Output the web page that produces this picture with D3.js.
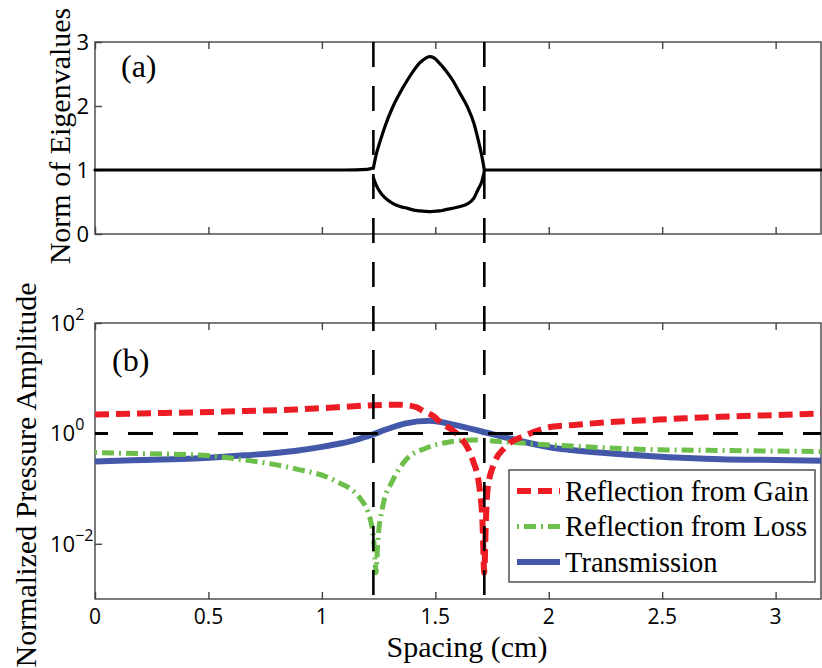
<!DOCTYPE html>
<html>
<head>
<meta charset="utf-8">
<script src="https://cdn.jsdelivr.net/npm/d3@7"></script>
<style>
  body { margin: 0; background: #fff; }
  svg { display: block; }
</style>
</head>
<body>
<svg id="svg" width="822" height="668"></svg>
<script>
// ****************************************
// Data

var xTicks = [0, 0.5, 1, 1.5, 2, 2.5, 3];
var eigTicks = [0, 1, 2, 3];
var ampTicks = [2, 0, -2];   // exponents of 10

var phaseEdges = [1.227, 1.716];

// panel (a): flat parts and the loop
var flatLeftX = [0, 0.6, 1.1, 1.2, 1.227];
var flatLeftY = [1.0, 1.0, 1.0, 1.01, 1.03];
var flatRightX = [1.716, 2.4, 3.2];
var flatRightY = [1.0, 1.0, 1.0];
var loopX = [1.227, 1.24, 1.256, 1.28, 1.312, 1.345, 1.378, 1.41, 1.43, 1.455, 1.474, 1.495, 1.518, 1.545, 1.575, 1.61, 1.641, 1.67, 1.689, 1.705, 1.716];
var upperY = [1.03, 1.25, 1.44, 1.70, 1.98, 2.21, 2.41, 2.58, 2.67, 2.74, 2.77, 2.75, 2.67, 2.56, 2.41, 2.19, 1.99, 1.73, 1.47, 1.22, 1.0];
var lowerY = [0.88, 0.76, 0.66, 0.56, 0.48, 0.43, 0.40, 0.37, 0.36, 0.355, 0.35, 0.355, 0.36, 0.38, 0.40, 0.43, 0.47, 0.56, 0.70, 0.82, 0.98];

// panel (b)
var gainX = [0, 0.2, 0.44, 0.66, 0.88, 1.05, 1.232, 1.3, 1.342, 1.415, 1.443, 1.488, 1.531, 1.575, 1.62, 1.665, 1.694, 1.708, 1.716, 1.722, 1.73, 1.76, 1.81, 1.90, 2.015, 2.10, 2.25, 2.44, 2.6, 2.76, 3.0, 3.2];
var gainY = [2.2, 2.3, 2.4, 2.55, 2.7, 2.95, 3.25, 3.3, 3.3, 3.0, 2.6, 2.1, 1.5, 1.15, 0.76, 0.33, 0.108, 0.024, 0.003, 0.02, 0.094, 0.29, 0.57, 0.93, 1.32, 1.41, 1.58, 1.74, 1.88, 2.0, 2.15, 2.3];

var lossX = [0, 0.2, 0.44, 0.66, 0.88, 1.056, 1.173, 1.217, 1.232, 1.239, 1.246, 1.268, 1.312, 1.37, 1.458, 1.562, 1.665, 1.81, 2.03, 2.10, 2.44, 2.76, 3.2];
var lossY = [0.45, 0.43, 0.41, 0.33, 0.23, 0.14, 0.063, 0.024, 0.008, 0.003, 0.01, 0.047, 0.14, 0.33, 0.54, 0.70, 0.76, 0.70, 0.61, 0.59, 0.51, 0.49, 0.47];

var transX = [0, 0.22, 0.44, 0.66, 0.88, 1.0, 1.08, 1.12, 1.166, 1.2, 1.227, 1.276, 1.37, 1.474, 1.59, 1.708, 1.855, 2.03, 2.10, 2.25, 2.44, 2.76, 3.0, 3.2];
var transY = [0.31, 0.33, 0.35, 0.40, 0.48, 0.57, 0.655, 0.71, 0.80, 0.88, 0.96, 1.15, 1.52, 1.69, 1.41, 1.07, 0.76, 0.54, 0.50, 0.44, 0.39, 0.34, 0.33, 0.32];

var legendLabels = ['Reflection from Gain', 'Reflection from Loss', 'Transmission'];

// ****************************************
// Layout

var left = 95, right = 821;
var aTop = 42, aBottom = 234;
var bTop = 323, bBottom = 599;
var tickLen = 7;
var sans = "'Open Sans', sans-serif";
var serif = "'Liberation Serif', 'Times New Roman', serif";

var red = '#ec1c24', green = '#6dbf4b', blue = '#4358a8';

var svg = d3.select('#svg');

var x = d3.scaleLinear().domain([0, 3.2]).range([left, right]);
var yA = d3.scaleLinear().domain([0, 3]).range([aBottom, aTop]);
var yB = d3.scaleLog().domain([1e-3, 1e2]).range([bBottom, bTop]);

// ****************************************
// Frames and ticks

function frame(y0, y1){
  var g = svg.append('g');
  g.append('g').attr('transform', 'translate(0,' + y1 + ')')
    .call(d3.axisBottom(x).tickValues(xTicks).tickSizeInner(-tickLen).tickSizeOuter(0).tickFormat(''));
  g.append('g').attr('transform', 'translate(0,' + y0 + ')')
    .call(d3.axisTop(x).tickValues(xTicks).tickSizeInner(-tickLen).tickSizeOuter(0).tickFormat(''));
  g.selectAll('.domain').remove();
  g.append('rect').attr('x', left).attr('y', y0).attr('width', right - left).attr('height', y1 - y0)
    .style('fill', 'none').style('stroke', '#444').style('stroke-width', 1.4);
  g.selectAll('.tick line').style('stroke', '#444').style('stroke-width', 1.4);
  return g;
}

var gA = frame(aTop, aBottom);
var gB = frame(bTop, bBottom);

// panel (a) y axis
var axA = svg.append('g').attr('transform', 'translate(' + left + ',0)')
  .call(d3.axisLeft(yA).tickValues(eigTicks).tickSizeInner(-tickLen).tickSizeOuter(0).tickPadding(6).tickFormat(d3.format('d')));
axA.select('.domain').remove();
axA.selectAll('.tick line').style('stroke', '#444').style('stroke-width', 1.4);
axA.selectAll('.tick text').style('font-family', sans).style('font-size', '22px').style('fill', '#000').attr('dy', '0.36em');

// panel (b) y axis
var axB = svg.append('g').attr('transform', 'translate(' + left + ',0)')
  .call(d3.axisLeft(yB).tickValues(ampTicks.map(function(e){ return Math.pow(10, e); })).tickSizeInner(-tickLen).tickSizeOuter(0).tickFormat(''));
axB.select('.domain').remove();
axB.selectAll('.tick line').style('stroke', '#444').style('stroke-width', 1.4);

ampTicks.forEach(function(e){
  var t = svg.append('text').attr('x', 50).attr('y', yB(Math.pow(10, e)) + 8)
    .style('font-family', sans).style('font-size', '22px').style('fill', '#000');
  t.append('tspan').text('10');
  t.append('tspan').attr('dy', -11).style('font-size', '16px').text(e < 0 ? '\u2212' + (-e) : String(e));
});

// x tick labels
xTicks.forEach(function(v){
  svg.append('text').attr('x', x(v)).attr('y', 624).attr('text-anchor', 'middle')
    .style('font-family', sans).style('font-size', '21px').style('fill', '#000')
    .text(v);
});

// ****************************************
// Panel (a) curves

function pairs(xs, ys){ return xs.map(function(d, i){ return [d, ys[i]]; }); }

var lineA = d3.line().x(function(d){ return x(d[0]); }).y(function(d){ return yA(d[1]); }).curve(d3.curveMonotoneX);

[pairs(flatLeftX, flatLeftY), pairs(flatRightX, flatRightY), pairs(loopX, upperY), pairs(loopX, lowerY)].forEach(function(pts){
  svg.append('path').attr('d', lineA(pts))
    .style('fill', 'none').style('stroke', '#000').style('stroke-width', 3.2).style('stroke-linejoin', 'round').style('stroke-linecap', 'round');
});

// ****************************************
// Panel (b) curves

var lineB = d3.line().x(function(d){ return x(d[0]); }).y(function(d){ return yB(d[1]); }).curve(d3.curveMonotoneX);

var series = [
  { pts: pairs(transX, transY), color: blue, width: 6, dash: null },
  { pts: pairs(lossX, lossY), color: green, width: 5, dash: '2 5 12 5' },
  { pts: pairs(gainX, gainY), color: red, width: 6, dash: '14 7' }
];

series.forEach(function(s){
  svg.append('path').attr('d', lineB(s.pts))
    .style('fill', 'none').style('stroke', s.color).style('stroke-width', s.width)
    .style('stroke-dasharray', s.dash);
});

// reference lines
svg.append('line').attr('x1', left).attr('x2', right).attr('y1', yB(1)).attr('y2', yB(1))
  .style('stroke', '#000').style('stroke-width', 3).style('stroke-dasharray', '25 20').style('stroke-dashoffset', 12);
phaseEdges.forEach(function(v){
  svg.append('line').attr('x1', x(v)).attr('x2', x(v)).attr('y1', aTop).attr('y2', bBottom)
    .style('stroke', '#000').style('stroke-width', 2.6).style('stroke-dasharray', '25 19');
});

// ****************************************
// Legend

var lg = svg.append('g');
lg.append('rect').attr('x', 509).attr('y', 470).attr('width', 306).attr('height', 112)
  .style('fill', '#fff').style('stroke', '#444').style('stroke-width', 1.4);
[series[2], series[1], series[0]].forEach(function(s, i){
  var yy = 491 + i * 35.5;
  lg.append('line').attr('x1', 517).attr('x2', 560).attr('y1', yy).attr('y2', yy)
    .style('stroke', s.color).style('stroke-width', s.width).style('stroke-dasharray', s.dash);
  lg.append('text').attr('x', 565).attr('y', yy + 9.5)
    .style('font-family', serif).style('font-size', '28.5px').style('fill', '#000')
    .text(legendLabels[i]);
});

// ****************************************
// Titles

svg.append('text').attr('x', 121).attr('y', 77).style('font-family', serif).style('font-size', '32px').text('(a)');
svg.append('text').attr('x', 112).attr('y', 371).style('font-family', serif).style('font-size', '32px').text('(b)');

svg.append('text').attr('transform', 'translate(70,136) rotate(-90)').attr('text-anchor', 'middle')
  .style('font-family', serif).style('font-size', '30px').text('Norm of Eigenvalues');
svg.append('text').attr('transform', 'translate(36,475) rotate(-90)').attr('text-anchor', 'middle')
  .style('font-family', serif).style('font-size', '30px').text('Normalized Pressure Amplitude');
svg.append('text').attr('x', 467).attr('y', 657).attr('text-anchor', 'middle')
  .style('font-family', serif).style('font-size', '30px').text('Spacing (cm)');
</script>
</body>
</html>
